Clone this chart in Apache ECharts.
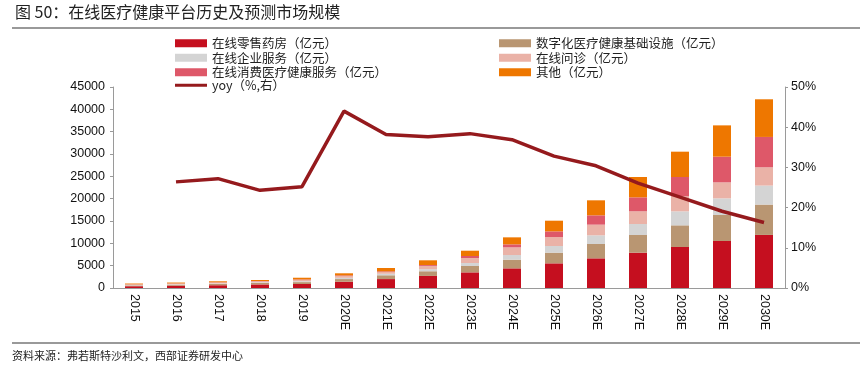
<!DOCTYPE html>
<html>
<head>
<meta charset="utf-8">
<script src="https://cdn.jsdelivr.net/npm/echarts@6/dist/echarts.min.js"></script>
<style>
  html, body { margin: 0; padding: 0; background: #fff; }
  #main { width: 865px; height: 376px; }
</style>
</head>
<body>
<div id="main"></div>
<script>
var years = ['2015', '2016', '2017', '2018', '2019', '2020E', '2021E', '2022E',
  '2023E', '2024E', '2025E', '2026E', '2027E', '2028E', '2029E', '2030E'];

// 亿元
var retailPharmacy = [400, 500, 620, 800, 900, 1400, 2000, 2700, 3500, 4400, 5520, 6640, 7910, 9180, 10520, 11880];
var digitalInfra = [180, 220, 280, 330, 420, 600, 850, 1050, 1420, 1940, 2390, 3210, 3960, 4850, 5820, 6800];
var enterpriseService = [80, 100, 120, 150, 200, 280, 330, 450, 670, 1040, 1490, 1940, 2460, 3130, 3730, 4250];
var onlineConsult = [130, 160, 190, 220, 300, 400, 400, 750, 1120, 1720, 2010, 2390, 2840, 3360, 3580, 4100];
var consumerMedical = [40, 50, 60, 70, 100, 140, 150, 200, 450, 670, 1270, 2090, 3130, 4330, 5750, 6790];
var others = [170, 190, 230, 220, 380, 470, 750, 1050, 1190, 1570, 2390, 3360, 4550, 5670, 7010, 8430];
// %
var yoy = [null, 26.4, 27.2, 24.3, 25.2, 44.0, 38.2, 37.6, 38.4, 36.9, 32.8, 30.4, 26.1, 22.6, 19.1, 16.3];

var names = ['在线零售药房（亿元）', '数字化医疗健康基础设施（亿元）', '在线企业服务（亿元）',
  '在线问诊（亿元）', '在线消费医疗健康服务（亿元）', '其他（亿元）', 'yoy（%,右）'];
var colors = ['#C50F1F', '#B99672', '#D4D4D4', '#EAB2A7', '#DE5869', '#EE7700', '#951A1D'];

var chart = echarts.init(document.getElementById('main'));

var stacks = [retailPharmacy, digitalInfra, enterpriseService, onlineConsult, consumerMedical, others];
var series = stacks.map(function (d, i) {
  return {
    name: names[i],
    type: 'bar',
    stack: 'total',
    barWidth: 18,
    itemStyle: { color: colors[i] },
    data: d
  };
});
series.push({
  name: names[6],
  type: 'line',
  yAxisIndex: 1,
  symbol: 'none',
  lineStyle: { color: colors[6], width: 3.5 },
  itemStyle: { color: colors[6] },
  data: yoy
});

var axisFont = { fontFamily: 'Liberation Sans', fontSize: 12.5, color: '#111' };
var legendText = { fontFamily: 'Noto Sans CJK SC', fontSize: 12.5, color: '#222' };

function legendCol(left, top, items, h) {
  return {
    orient: 'vertical',
    left: left,
    top: top,
    icon: 'rect',
    itemWidth: 32,
    itemHeight: h,
    itemGap: 2,
    textStyle: legendText,
    data: items
  };
}

var option = {
  animation: false,
  textStyle: { fontFamily: 'Noto Sans CJK SC' },
  title: {
    text: '图 50：在线医疗健康平台历史及预测市场规模',
    left: 10,
    top: -1,
    textStyle: { fontSize: 16, fontWeight: 'normal', color: '#222', fontFamily: 'Noto Sans CJK SC' }
  },
  legend: [
    legendCol(170, 32, [names[0], names[2], names[4]], 8),
    legendCol(170, 74, [names[6]], 3),
    legendCol(494, 32, [names[1], names[3], names[5]], 8)
  ],
  grid: { left: 113, right: 80, top: 87, bottom: 88 },
  xAxis: {
    type: 'category',
    data: years,
    axisLine: { lineStyle: { color: '#9a9a9a' } },
    axisTick: { inside: true, length: 4, lineStyle: { color: '#9a9a9a' } },
    axisLabel: Object.assign({ rotate: -90, margin: 6, interval: 0 }, axisFont)
  },
  yAxis: [
    {
      type: 'value',
      min: 0,
      max: 45000,
      interval: 5000,
      splitLine: { show: false },
      axisLine: { show: true, lineStyle: { color: '#9a9a9a' } },
      axisTick: { show: true, length: 3, lineStyle: { color: '#9a9a9a' } },
      axisLabel: Object.assign({ margin: 8, formatter: function (v) { return String(v); } }, axisFont)
    },
    {
      type: 'value',
      min: 0,
      max: 50,
      interval: 10,
      splitLine: { show: false },
      axisLine: { show: true, lineStyle: { color: '#9a9a9a' } },
      axisTick: { show: true, length: 3, lineStyle: { color: '#9a9a9a' } },
      axisLabel: Object.assign({ margin: 6, formatter: '{value}%' }, axisFont)
    }
  ],
  graphic: [
    {
      type: 'line',
      shape: { x1: 12, y1: 28, x2: 860, y2: 28 },
      style: { stroke: '#777', lineWidth: 1.5 }
    },
    {
      type: 'line',
      shape: { x1: 12, y1: 343, x2: 860, y2: 343 },
      style: { stroke: '#777', lineWidth: 1.5 }
    },
    {
      type: 'text',
      left: 12,
      top: 350,
      style: { text: '资料来源：弗若斯特沙利文，西部证券研发中心', font: '11px "Noto Sans CJK SC"', fill: '#222' }
    }
  ],
  series: series
};

chart.setOption(option);
</script>
</body>
</html>
